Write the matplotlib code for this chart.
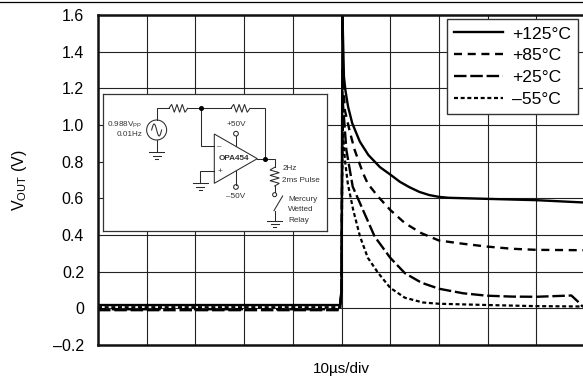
import matplotlib
matplotlib.use('Agg')
import numpy as np
import matplotlib.pyplot as plt
from matplotlib.lines import Line2D
from matplotlib.patches import Circle, Polygon

plt.rcParams['font.family'] = ['Liberation Sans', 'DejaVu Sans']
plt.rcParams['mathtext.fontset'] = 'custom'
plt.rcParams['mathtext.rm'] = 'Liberation Sans'

W, H = 583, 381

# Curvas (x em divisoes, y em volts)
x_125 = [0, 4.97, 5.0, 5.02, 5.05, 5.08, 5.135, 5.22, 5.375, 5.55, 5.79, 6.0, 6.2, 6.4, 6.6, 6.8, 7.0, 7.2, 7.6, 8.0, 9.0, 10.0]
v_125 = [0.018, 0.018, 0.1, 1.6, 1.264, 1.19, 1.10, 1.01, 0.91, 0.837, 0.77, 0.73, 0.69, 0.66, 0.635, 0.618, 0.608, 0.603, 0.6, 0.597, 0.59, 0.577]

x_85 = [0, 4.97, 5.0, 5.02, 5.07, 5.17, 5.27, 5.44, 5.54, 5.75, 6.0, 6.3, 6.64, 7.0, 7.5, 7.98, 8.5, 9.0, 10.0]
v_85 = [-0.005, -0.005, 0.1, 1.3, 1.08, 0.964, 0.864, 0.738, 0.68, 0.61, 0.537, 0.465, 0.41, 0.37, 0.352, 0.337, 0.325, 0.319, 0.317]

x_25 = [0, 4.97, 5.0, 5.02, 5.1, 5.23, 5.44, 5.68, 6.0, 6.3, 6.64, 7.0, 7.5, 7.98, 8.5, 9.0, 9.72, 9.85, 9.95]
v_25 = [-0.01, -0.01, 0.1, 1.15, 0.864, 0.664, 0.537, 0.392, 0.276, 0.192, 0.14, 0.107, 0.082, 0.069, 0.064, 0.063, 0.07, 0.038, 0.01]

x_m55 = [0, 4.97, 5.0, 5.02, 5.07, 5.13, 5.24, 5.38, 5.54, 5.75, 6.0, 6.3, 6.67, 7.0, 8.0, 9.0, 10.0]
v_m55 = [0.006, 0.006, 0.1, 1.0, 0.81, 0.68, 0.537, 0.392, 0.276, 0.194, 0.112, 0.058, 0.032, 0.025, 0.018, 0.012, 0.01]

labels = ['+125°C', '+85°C', '+25°C', '–55°C']
y_ticks = [-0.2, 0, 0.2, 0.4, 0.6, 0.8, 1.0, 1.2, 1.4, 1.6]
y_tick_labels = ['–0.2', '0', '0.2', '0.4', '0.6', '0.8', '1.0', '1.2', '1.4', '1.6']

fig = plt.figure(figsize=(W / 100, H / 100), dpi=100)
# o eixo passa um pouco da borda direita, como no original
ax = fig.add_axes([98 / W, (H - 345) / H, 487 / W, 330 / H])
ax.set_xlim(0, 10)
ax.set_ylim(-0.2, 1.6)

ax.plot(x_125, v_125, color='black', lw=1.7, label=labels[0])
ax.plot(x_85, v_85, color='black', lw=1.7, ls=(0, (3.4, 2.4)), label=labels[1])
ax.plot(x_25, v_25, color='black', lw=1.7, ls=(0, (5.3, 1.6)), label=labels[2])
ax.plot(x_m55, v_m55, color='black', lw=1.6, ls=(0, (1.8, 1.2)), label=labels[3])

ax.set_xticks(np.arange(1, 10))
ax.set_xticklabels([])
ax.set_yticks(y_ticks)
ax.set_yticklabels(y_tick_labels, fontsize=11.5)
ax.tick_params(length=0, axis='both')
ax.tick_params(axis='y', pad=10)
ax.grid(True, color='#222222', lw=0.8)
ax.set_axisbelow(True)
for s in ax.spines.values():
    s.set_linewidth(1.8)
    s.set_color('#111111')

ax.set_xlabel('10µs/div', fontsize=11, labelpad=8.5)
ax.set_ylabel('V$_{\\mathrm{OUT}}$ (V)', fontsize=11.5, labelpad=17.5)

ax.legend(loc='upper left', bbox_to_anchor=(447.3 / W, 1 - 19.3 / H), bbox_transform=fig.transFigure,
          borderaxespad=0, fontsize=12.6, fancybox=False, framealpha=1, edgecolor='#333333',
          handlelength=2.8, handletextpad=0.5, labelspacing=0.38, borderpad=0.4)

fig.add_artist(Line2D([0, 1], [1 - 1.5 / H, 1 - 1.5 / H], color='black', lw=0.9))

# Esquema do circuito, em coordenadas proprias
sc = fig.add_axes([103.3 / W, (H - 231) / H, 224 / W, 137 / H])
sc.set_xlim(25, 697)
sc.set_ylim(453, 42)
sc.set_xticks([])
sc.set_yticks([])
for s in sc.spines.values():
    s.set_linewidth(0.9)
    s.set_color('#333333')

c = '#2a2a2a'
lw = 0.75


def wire(xs, ys):
    sc.plot(xs, ys, color=c, lw=lw, solid_joinstyle='miter')


def ground(x, y):
    wire([x - 22, x + 22], [y, y])
    wire([x - 12, x + 12], [y + 10, y + 10])
    wire([x - 4, x + 4], [y + 20, y + 20])


def res_h(x0, x1, y):
    xs = np.linspace(x0, x1, 8)
    wire(xs, [y, y - 12, y + 12, y - 12, y + 12, y - 12, y + 12, y])


def res_v(x, y0, y1):
    ys = np.linspace(y0, y1, 8)
    wire([x, x - 14, x + 14, x - 14, x + 14, x - 14, x + 14, x], ys)


wire([185, 185, 222], [120, 85, 85])
res_h(222, 278, 85)
wire([278, 408], [85, 85])
res_h(408, 465, 85)
wire([465, 509, 509], [85, 85, 236])
wire([318, 318, 358], [85, 199, 199])
wire([358, 316, 316], [273, 273, 310])
ground(316, 310)
wire([185, 185], [180, 217])
ground(185, 217)
sc.add_patch(Circle((185, 150), 30, fc='white', ec=c, lw=lw))
t = np.linspace(0, 1, 40)
wire(170 + 30 * t, 150 - 18 * np.sin(2 * np.pi * t))
sc.add_patch(Polygon([(358, 162), (358, 310), (487, 236)], closed=True, fc='white', ec=c, lw=lw))
wire([423, 423], [168, 199])
wire([423, 423], [273, 314])
sc.add_patch(Circle((423, 161), 7, fc='white', ec=c, lw=lw))
sc.add_patch(Circle((423, 321), 7, fc='white', ec=c, lw=lw))
wire([487, 539, 539], [236, 236, 262])
res_v(539, 262, 318)
wire([539, 539], [318, 337])
sc.add_patch(Circle((539, 344), 6, fc='white', ec=c, lw=lw))
wire([537, 563], [392, 348])
wire([539, 539], [392, 422])
ground(539, 422)
sc.plot([318, 509], [85, 236], ls='none', marker='o', ms=2.6, color='black')

ts = 5.9
tc = '#333333'
sc.text(143, 135, '0.988V$_{\\mathrm{PP}}$', ha='right', va='center', fontsize=ts, color=tc)
sc.text(143, 165, '0.01Hz', ha='right', va='center', fontsize=ts, color=tc)
sc.text(423, 133, '+50V', ha='center', va='center', fontsize=ts, color=tc)
sc.text(423, 348, '–50V', ha='center', va='center', fontsize=ts, color=tc)
sc.text(416, 237, 'OPA454', ha='center', va='center', fontsize=ts, color=tc, fontweight='bold')
sc.text(374, 200, '–', ha='center', va='center', fontsize=ts, color=tc)
sc.text(374, 275, '+', ha='center', va='center', fontsize=ts, color=tc)
sc.text(562, 267, '2Hz', ha='left', va='center', fontsize=ts, color=tc)
sc.text(562, 301, '2ms Pulse', ha='left', va='center', fontsize=ts, color=tc)
sc.text(580, 358, 'Mercury', ha='left', va='center', fontsize=ts, color=tc)
sc.text(580, 388, 'Wetted', ha='left', va='center', fontsize=ts, color=tc)
sc.text(580, 420, 'Relay', ha='left', va='center', fontsize=ts, color=tc)

fig.savefig('out.png', dpi=100)
